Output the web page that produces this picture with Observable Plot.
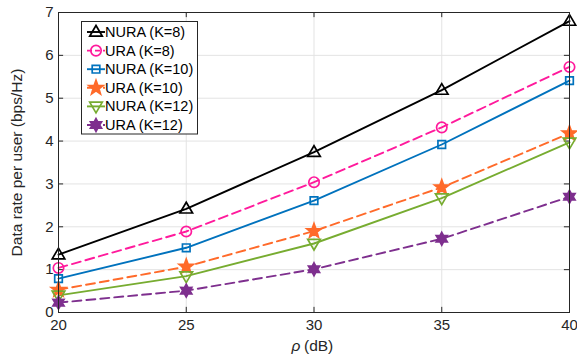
<!DOCTYPE html>
<html><head><meta charset="utf-8">
<script src="https://cdn.jsdelivr.net/npm/d3@7"></script>
<script src="https://cdn.jsdelivr.net/npm/@observablehq/plot@0.6"></script>
<style>
body{margin:0;background:#fff}
svg{font-family:"Liberation Sans",Arial,sans-serif}
</style>
</head><body><div id="chart"></div>
<script>
const rho = [20, 25, 30, 35, 40];
const seriesNames = ["NURA (K=8)", "URA (K=8)", "NURA (K=10)", "URA (K=10)", "NURA (K=12)", "URA (K=12)"];
const nuraK8 = [1.35, 2.42, 3.74, 5.19, 6.80];
const uraK8 = [1.04, 1.89, 3.04, 4.32, 5.73];
const nuraK10 = [0.79, 1.51, 2.61, 3.92, 5.41];
const uraK10 = [0.53, 1.07, 1.90, 2.92, 4.18];
const nuraK12 = [0.40, 0.85, 1.61, 2.67, 3.97];
const uraK12 = [0.23, 0.51, 1.01, 1.72, 2.70];
const xTicks = [20, 25, 30, 35, 40];
const yTicks = [0, 1, 2, 3, 4, 5, 6, 7];

const colors = ["#000000", "#FF1A9C", "#0072BD", "#FF6A2A", "#77AC30", "#7E2F8E"];
const dashed = [false, true, false, true, false, true];
const allValues = [nuraK8, uraK8, nuraK10, uraK10, nuraK12, uraK12];

// custom marker shapes (pixel sizes, MATLAB-like)
const triUp = {draw(c){c.moveTo(0,-6.5);c.lineTo(6.3,4.2);c.lineTo(-6.3,4.2);c.closePath();}};
const triDown = {draw(c){c.moveTo(0,6.5);c.lineTo(6.3,-4.2);c.lineTo(-6.3,-4.2);c.closePath();}};
const circ = {draw(c){c.moveTo(5.2,0);c.arc(0,0,5.2,0,2*Math.PI);}};
const sq = {draw(c){c.rect(-3.8,-3.8,7.6,7.6);}};
function starPath(n, ro, ri){return {draw(c){for(let i=0;i<2*n;i++){const r=i%2?ri:ro;const a=-Math.PI/2+i*Math.PI/n;const x=r*Math.cos(a),y=r*Math.sin(a);i?c.lineTo(x,y):c.moveTo(x,y);}c.closePath();}};}
const star5 = starPath(5, 7.6, 3.1);
const hexa = starPath(6, 6.4, 3.6);
const symbols = [triUp, circ, sq, star5, triDown, hexa];
const fills = ["none", "none", "none", "#FF6A2A", "none", "#7E2F8E"];

const data = [];
allValues.forEach((vals, s) => vals.forEach((v, i) => data.push({series: seriesNames[s], s, x: rho[i], y: v})));

const marks = [
  Plot.gridX(xTicks, {stroke: "#e3e3e3", strokeOpacity: 1, strokeWidth: 1}),
  Plot.gridY(yTicks, {stroke: "#e3e3e3", strokeOpacity: 1, strokeWidth: 1}),
  // inward tick marks on all four sides
  Plot.ruleX(xTicks, {x: d => d, y1: 0, y2: 0.12, stroke: "#262626"}),
  Plot.ruleX(xTicks, {x: d => d, y1: 7, y2: 6.88, stroke: "#262626"}),
  Plot.ruleY(yTicks, {y: d => d, x1: 20, x2: 20.2, stroke: "#262626"}),
  Plot.ruleY(yTicks, {y: d => d, x1: 40, x2: 39.8, stroke: "#262626"}),
  Plot.axisX(xTicks, {tickSize: 0, tickPadding: 7, fontSize: 15, fill: "#262626", label: null}),
  Plot.axisY(yTicks, {tickSize: 0, tickPadding: 5, fontSize: 15, fill: "#262626", label: null}),
];
allValues.forEach((vals, s) => {
  const d = data.filter(e => e.s === s);
  marks.push(Plot.line(d, {x: "x", y: "y", stroke: colors[s], strokeWidth: 1.9, strokeDasharray: dashed[s] ? "9,5" : null}));
});
allValues.forEach((vals, s) => {
  const d = data.filter(e => e.s === s);
  marks.push(Plot.dot(d, {x: "x", y: "y", symbol: () => symbols[s], r: 5, stroke: colors[s], strokeWidth: 1.7, fill: fills[s]}));
});
marks.push(Plot.frame({stroke: "#262626", strokeWidth: 1}));
marks.push(Plot.text(["Data rate per user (bps/Hz)"], {frameAnchor: "left", textAnchor: "middle", dx: -41, rotate: -90, fontSize: 15.5, fill: "#262626"}));
marks.push(Plot.text(["ρ"], {frameAnchor: "bottom", textAnchor: "middle", dx: -18, dy: 38, fontSize: 15.5, fontStyle: "italic", fill: "#262626"}));
marks.push(Plot.text(["(dB)"], {frameAnchor: "bottom", textAnchor: "start", dx: -10, dy: 38, fontSize: 15.5, fill: "#262626"}));

const chart = Plot.plot({
  width: 577, height: 362,
  marginLeft: 58, marginRight: 8, marginTop: 12, marginBottom: 50,
  x: {domain: [20, 40]},
  y: {domain: [0, 7]},
  style: {fontFamily: "'Liberation Sans', Arial, sans-serif", background: "#fff"},
  marks
});
document.getElementById("chart").appendChild(chart);

// legend
const svg = d3.select(chart);
const lg = svg.append("g").attr("text-anchor", "start");
lg.append("rect").attr("x", 81.5).attr("y", 21.5).attr("width", 116).attr("height", 112.5)
  .attr("fill", "#fff").attr("stroke", "#262626").attr("stroke-width", 1);
seriesNames.forEach((name, s) => {
  const cy = 32 + s * 18.6;
  lg.append("line").attr("x1", 87).attr("x2", 105).attr("y1", cy).attr("y2", cy)
    .attr("stroke", colors[s]).attr("stroke-width", 1.9).attr("stroke-dasharray", dashed[s] ? "5,3" : null);
  lg.append("path").attr("transform", `translate(96,${cy})`)
    .attr("d", d3.symbol(symbols[s])())
    .attr("stroke", colors[s]).attr("stroke-width", 1.7).attr("fill", fills[s]);
  lg.append("text").attr("x", 105).attr("y", cy).attr("dy", "0.35em")
    .attr("font-size", 14.5).attr("fill", "#000").text(name);
});
</script>
</body></html>
